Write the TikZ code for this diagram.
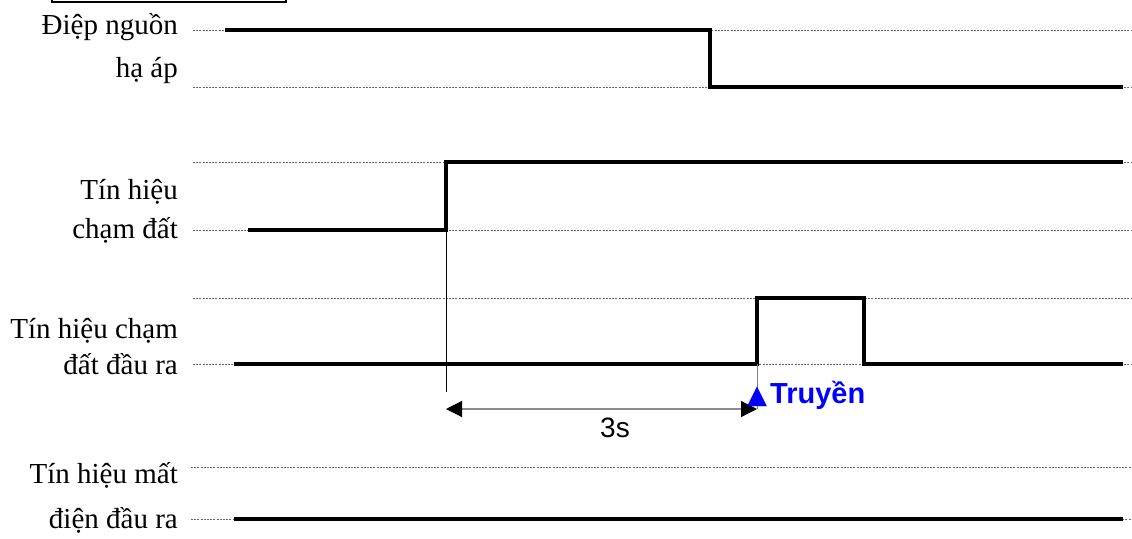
\documentclass[tikz,border=0pt]{standalone}
\usepackage{fontspec}
\setmainfont{Liberation Serif}
\newfontfamily\arialf{Liberation Sans}
\newfontfamily\symf{DejaVu Sans}
\usetikzlibrary{arrows.meta}
\definecolor{tblue}{RGB}{0,0,255}
\begin{document}
\begin{tikzpicture}[x=1pt,y=-1pt,
  guide/.style={draw=black!60, line width=0.8pt, dash pattern=on 2pt off 1.2pt},
  sig/.style={draw=black, line width=4.5pt, line join=miter},
  lbl/.style={font=\fontsize{29}{35}\selectfont, anchor=base east, inner sep=0pt}]
\useasboundingbox (0,0) rectangle (1132,538);

% top box fragment
\coordinate (b1) at (52,0);
\coordinate (b2) at (52,2);
\coordinate (b3) at (286,2);
\coordinate (b4) at (286,0);
\draw[line width=2.5pt] (b1) -- (b2) -- (b3) -- (b4);

% labels
\node[lbl] (l1a) at (178,34) {Điệp nguồn};
\node[lbl] (l1b) at (178,77) {hạ áp};
\node[lbl] (l2a) at (178,199) {Tín hiệu};
\node[lbl] (l2b) at (178,238) {chạm đất};
\node[lbl] (l3a) at (178,338) {Tín hiệu chạm};
\node[lbl] (l3b) at (178,374) {đất đầu ra};
\node[lbl] (l4a) at (178,483) {Tín hiệu mất};
\node[lbl] (l4b) at (178,528) {điện đầu ra};

% guide coordinates
\coordinate (g1a) at (193,30);  \coordinate (g1b) at (1132,30);
\coordinate (g1c) at (193,87);  \coordinate (g1d) at (1132,87);
\coordinate (g2a) at (193,162); \coordinate (g2b) at (1132,162);
\coordinate (g2c) at (193,230); \coordinate (g2d) at (1132,230);
\coordinate (g3a) at (193,298); \coordinate (g3b) at (1132,298);
\coordinate (g3c) at (193,364); \coordinate (g3d) at (1132,364);
\coordinate (g4a) at (191,467); \coordinate (g4b) at (1132,467);
\coordinate (g4c) at (191,519); \coordinate (g4d) at (1132,519);
\draw[guide] (g1a) -- (g1b);
\draw[guide] (g1c) -- (g1d);
\draw[guide] (g2a) -- (g2b);
\draw[guide] (g2c) -- (g2d);
\draw[guide] (g3a) -- (g3b);
\draw[guide] (g3c) -- (g3d);
\draw[guide] (g4a) -- (g4b);
\draw[guide] (g4c) -- (g4d);

% signal 1
\coordinate (s1a) at (225,30);
\coordinate (s1b) at (710,30);
\coordinate (s1c) at (710,87);
\coordinate (s1d) at (1123,87);
\draw[sig] (s1a) -- (s1b) -- (s1c) -- (s1d);

% signal 2
\coordinate (s2a) at (248,230);
\coordinate (s2b) at (446,230);
\coordinate (s2c) at (446,162);
\coordinate (s2d) at (1123,162);
\draw[sig] (s2a) -- (s2b) -- (s2c) -- (s2d);

% signal 3
\coordinate (s3a) at (234,364);
\coordinate (s3b) at (757,364);
\coordinate (s3c) at (757,298);
\coordinate (s3d) at (864,298);
\coordinate (s3e) at (864,364);
\coordinate (s3f) at (1123,364);
\draw[sig] (s3a) -- (s3b) -- (s3c) -- (s3d) -- (s3e) -- (s3f);

% signal 4
\coordinate (s4a) at (234,519);
\coordinate (s4b) at (1123,519);
\draw[sig] (s4a) -- (s4b);

% timing markers
\coordinate (m1) at (446,392);
\draw[line width=0.8pt] (s2b) -- (m1);
\coordinate (m2) at (757,409);
\draw[line width=1pt, draw=black!50] (s3b) -- (m2);
\coordinate (a1) at (446,409);
\draw[line width=1.2pt, draw=black!45,
  {Triangle[length=16pt,width=16pt,color=black]}-{Triangle[length=16pt,width=16pt,color=black]}]
  (a1) -- (m2);
\node[font=\arialf\fontsize{28}{30}\selectfont, inner sep=0pt] (t3s) at (615,428) {3s};
\node[anchor=base west, inner sep=0pt, text=tblue] (tr) at (747,403)
  {{\symf\fontsize{26}{28}\selectfont ▲}\hspace{3pt}{\arialf\bfseries\fontsize{29}{30}\selectfont Truyền}};
\end{tikzpicture}
\end{document}
